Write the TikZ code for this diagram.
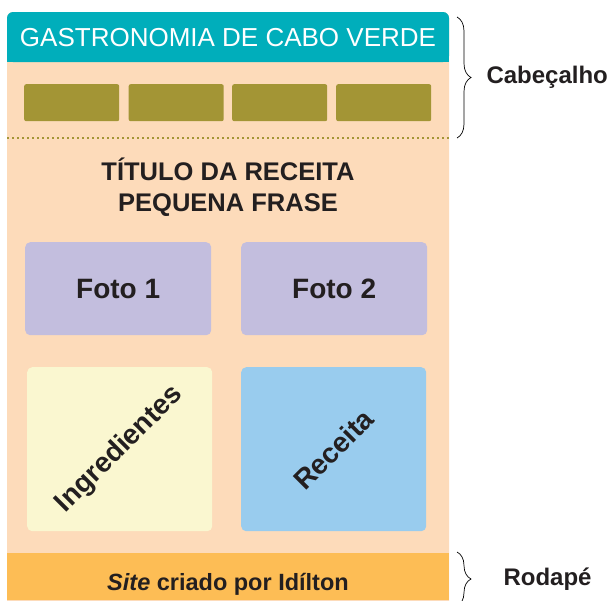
\documentclass[tikz,border=0pt]{standalone}
\usepackage{fontspec}
\setmainfont{Liberation Sans}
\usepackage{xcolor}
\usetikzlibrary{positioning,decorations.pathreplacing}
\definecolor{cteal}{RGB}{0,174,187}
\definecolor{cpeach}{RGB}{253,219,186}
\definecolor{colive}{RGB}{163,149,53}
\definecolor{clavender}{RGB}{195,190,222}
\definecolor{cpaleyel}{RGB}{250,247,208}
\definecolor{cskyblue}{RGB}{153,204,238}
\definecolor{corange}{RGB}{253,189,85}
\definecolor{cink}{RGB}{35,31,32}
\tikzset{
  bloco/.style={anchor=north west, inner sep=0pt, rounded corners=5pt,
    font=\bfseries\fontsize{28}{32}\selectfont, text=cink},
  menubox/.style={anchor=north west, inner sep=0pt, rounded corners=2pt,
    fill=colive, minimum width=95pt, minimum height=37pt},
  diagonal/.style={rotate=45, text=cink, font=\bfseries\fontsize{28}{32}\selectfont},
  chave/.style={decorate, decoration={brace, amplitude=14pt}, black, line width=0.7pt},
  rotulo/.style={anchor=west, font=\bfseries\fontsize{24}{28}\selectfont, text=cink}
}

\begin{document}
\begin{tikzpicture}[x=1pt, y=-1pt]
        \useasboundingbox (0,0) rectangle (608,600);

        \fill[cpeach, rounded corners=6pt] (7,12) rectangle (449,610);
        \fill[cteal, rounded corners=6pt]  (7,12) rectangle (449,62);
        \fill[cteal]                       (7,40) rectangle (449,62);
        \node[anchor=base, text=white, font=\fontsize{26}{30}\selectfont]
          (titulo) at (228,46) {GASTRONOMIA DE CABO VERDE};

        \foreach \x [count=\i] in {24,128.5,232,336}
          \node[menubox] (menu\i) at (\x,84) {};

        \draw[colive, line width=2pt, dash pattern=on 2pt off 3pt]
          (7,138) -- (449,138);

        \node[align=center, text=cink, font=\bfseries\fontsize{25.5}{31}\selectfont]
          (receita) at (228,187) {TÍTULO DA RECEITA\\PEQUENA FRASE};

        \node[bloco, fill=clavender, minimum width=186pt, minimum height=93pt]
          (foto1) at (25,242) {Foto 1};
        \node[bloco, fill=clavender, minimum width=186pt, minimum height=93pt]
          (foto2) at (241,242) {Foto 2};

        \node[bloco, fill=cpaleyel, minimum width=185pt, minimum height=164pt]
          (ingr) at (27,367) {};
        \node[bloco, fill=cskyblue, minimum width=185pt, minimum height=164pt]
          (prep) at (241,367) {};
        \node[diagonal] at (ingr.center) {Ingredientes};
        \node[diagonal] at (prep.center) {Receita};

        \fill[corange] (7,553) rectangle (449,600);
        \node[anchor=base, text=cink, font=\bfseries\fontsize{23.5}{28}\selectfont]
          (rodape) at (228,590) {\textit{Site} criado por Idílton};

        % chaves
        \coordinate (cabA) at (457,17);
        \coordinate (cabB) at (457,138);
        \coordinate (rodA) at (457,552);
        \coordinate (rodB) at (457,606);
        \draw[chave] (cabA) -- (cabB);
        \draw[chave] (rodA) -- (rodB);
        \node[rotulo] (cab) at (483,77) {Cabeçalho};
        \node[rotulo] (rod) at (500,579) {Rodapé};
      \end{tikzpicture}
\end{document}
